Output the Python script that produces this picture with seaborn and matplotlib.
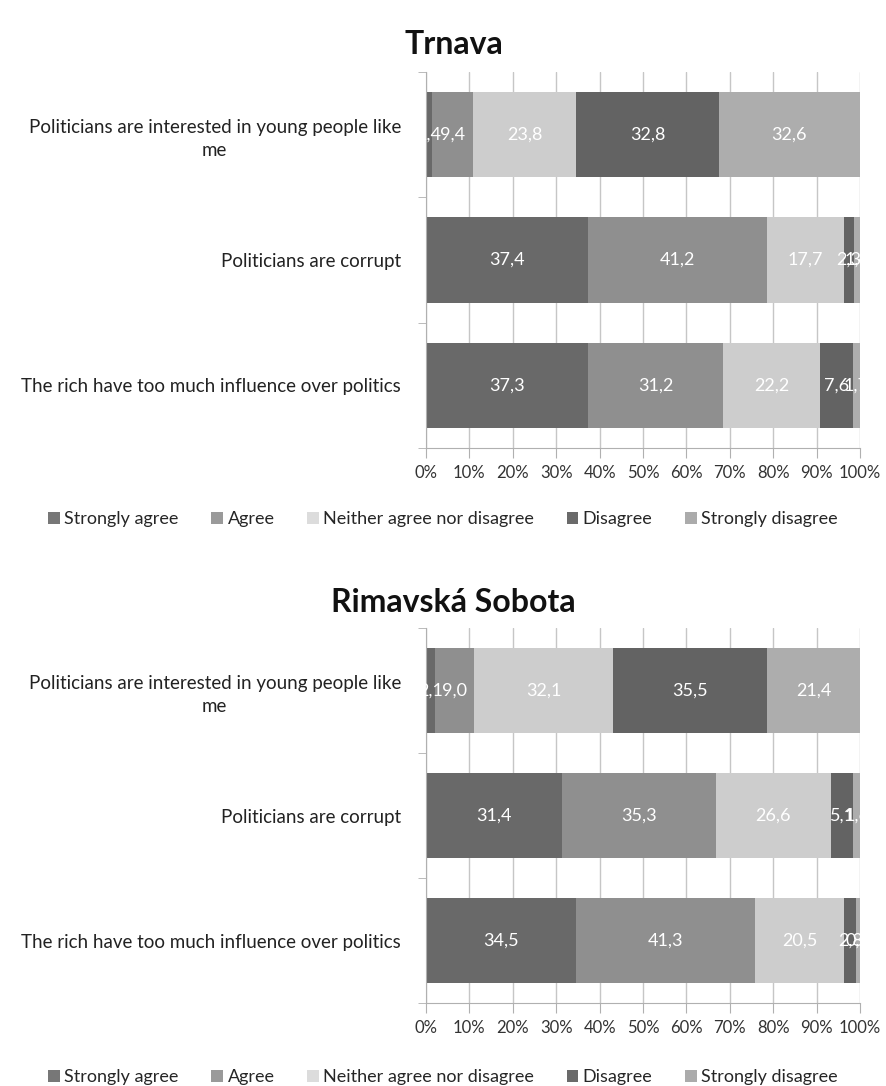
import numpy as np
import pandas as pd
import matplotlib
matplotlib.use("Agg")
import matplotlib.pyplot as plt
import seaborn as sns
from matplotlib.patches import Patch

sns.set_style("white")
plt.rcParams['font.family'] = ['Lato', 'DejaVu Sans']

# Data
questions = ["Politicians are interested in young people like\nme",
             "Politicians are corrupt",
             "The rich have too much influence over politics"]
answers = ["Strongly agree", "Agree", "Neither agree nor disagree",
           "Disagree", "Strongly disagree"]
trnava = [[1.4, 9.4, 23.8, 32.8, 32.6],
          [37.4, 41.2, 17.7, 2.3, 1.4],
          [37.3, 31.2, 22.2, 7.6, 1.7]]
rimavska = [[2.1, 9.0, 32.1, 35.5, 21.4],
            [31.4, 35.3, 26.6, 5.1, 1.6],
            [34.5, 41.3, 20.5, 2.8, 0.9]]
towns = ["Trnava", "Rimavská Sobota"]
bar_colors = ["#696969", "#8f8f8f", "#cdcdcd", "#636363", "#adadad"]
legend_colors = ["#777777", "#9a9a9a", "#dcdcdc", "#6a6a6a", "#ababab"]
xticks = np.arange(0, 101, 10)


def draw_panel(ax, values):
    vals = np.array(values)
    # scale rows to 100%
    pct = vals / vals.sum(axis=1, keepdims=True) * 100
    cum = np.cumsum(pct, axis=1)
    df = pd.DataFrame(cum, columns=answers)
    df["question"] = questions
    # draw from the widest cumulative bar to the narrowest
    for i in range(len(answers) - 1, -1, -1):
        sns.barplot(data=df, x=answers[i], y="question", orient="h",
                    color=bar_colors[i], width=0.68, saturation=1,
                    edgecolor="none", ax=ax, zorder=2)
    # value labels
    for r in range(len(questions)):
        start = 0
        for i in range(len(answers)):
            mid = start + pct[r, i] / 2
            ax.text(mid, r, f"{vals[r, i]:.1f}".replace(".", ","),
                    ha="center", va="center", color="white", fontsize=13,
                    zorder=3)
            start += pct[r, i]
    ax.set_xlim(0, 100)
    ax.set_ylim(2.5, -0.5)
    ax.set_xticks(xticks)
    ax.set_xticklabels([f"{t}%" for t in xticks], fontsize=12, color="#333333")
    ax.xaxis.grid(True, color="#c6c6c6", linewidth=1, zorder=0)
    ax.set_axisbelow(True)
    ax.tick_params(axis="x", length=7, color="#b0b0b0", direction="out", pad=5,
                   bottom=True)
    # category boundary ticks on the y axis
    ax.set_yticks([0, 1, 2])
    ax.set_yticklabels(questions, fontsize=13.5, color="#222222",
                       multialignment="center", linespacing=1.45)
    ax.set_yticks([-0.5, 0.5, 1.5, 2.5], minor=True)
    ax.tick_params(axis="y", which="major", length=0, pad=18)
    ax.tick_params(axis="y", which="minor", length=6, color="#b0b0b0", left=True)
    for s in ["top", "right"]:
        ax.spines[s].set_visible(False)
    for s in ["left", "bottom"]:
        ax.spines[s].set_color("#b0b0b0")
    ax.set_xlabel("")
    ax.set_ylabel("")


fig = plt.figure(figsize=(8.86, 10.86), dpi=100)
ax1 = fig.add_axes([0.4808, 0.5875, 0.4900, 0.3462])
ax2 = fig.add_axes([0.4808, 0.0764, 0.4900, 0.3453])
draw_panel(ax1, trnava)
draw_panel(ax2, rimavska)

for town, y in zip(towns, [0.9586, 0.4448]):
    fig.text(0.512, y, town, ha="center", va="center", fontsize=23,
             fontweight="bold", color="#111111")

handles = [Patch(facecolor=c, edgecolor="none") for c in legend_colors]
for y in [0.522, 0.0083]:
    fig.legend(handles, answers, loc="center", bbox_to_anchor=(0.5, y),
               ncol=5, frameon=False, fontsize=13, handlelength=0.65,
               handleheight=0.65, handletextpad=0.25, columnspacing=1.8)

fig.savefig("out.png", dpi=100, facecolor="white")
